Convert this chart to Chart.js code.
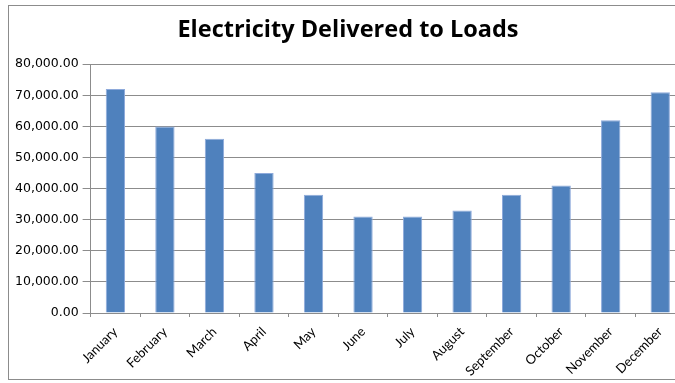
<!DOCTYPE html>
<html>
<head>
<meta charset="utf-8">
<script src="https://cdn.jsdelivr.net/npm/chart.js@4"></script>
<style>
body { margin: 0; background: #fff; overflow: hidden; }
#frame { position: absolute; left: 8px; top: 5px; width: 700px; height: 375px; border: 1px solid #8c8c8c; box-sizing: border-box; }
#wrap { position: absolute; left: 0; top: 0; width: 697px; height: 388px; }
</style>
</head>
<body>
<div id="frame"></div>
<div id="wrap"><canvas id="loadsChart"></canvas></div>
<script>
const months = ["January", "February", "March", "April", "May", "June",
  "July", "August", "September", "October", "November", "December"];
const delivered = [72000, 60000, 56000, 45000, 38000, 31000,
  31000, 33000, 38000, 41000, 62000, 71000];
const chartTitle = "Electricity Delivered to Loads";

let loadsChart;

function drawLoadsChart(labels, data) {

  if (loadsChart) loadsChart.destroy();

  loadsChart = new Chart(
    document.getElementById("loadsChart"),
    {
      type: "bar",
      data: {
        labels: labels,
        datasets: [{
          label: "Delivered",
          data: data,
          backgroundColor: "#4f81bd",
          borderColor: "#8eaadb",
          borderWidth: { top: 1, left: 1, right: 1, bottom: 0 },
          barPercentage: 0.39,
          categoryPercentage: 1
        }]
      },
      options: {
        responsive: true,
        maintainAspectRatio: false,
        animation: false,
        layout: { padding: { left: 11, right: 12, top: 4, bottom: 2 } },
        plugins: {
          legend: { display: false },
          tooltip: { enabled: false },
          title: {
            display: true,
            text: chartTitle,
            color: "#000",
            font: { family: "Open Sans", size: 23.5, weight: "bold" },
            padding: { top: 12, bottom: 20 }
          }
        },
        scales: {
          x: {
            grid: { display: true, drawOnChartArea: false, drawTicks: true, tickLength: 4, color: "#8c8c8c", offset: true },
            border: { display: true, color: "#8c8c8c", width: 1 },
            ticks: {
              color: "#000",
              font: { family: "Lato", size: 13 },
              minRotation: 45,
              maxRotation: 45,
              padding: 7
            }
          },
          y: {
            min: 0,
            max: 80000,
            grid: { color: "#8c8c8c", tickLength: 8 },
            border: { display: true, color: "#8c8c8c", width: 1 },
            ticks: {
              stepSize: 10000,
              color: "#000",
              font: { family: "DejaVu Sans", size: 12.5 },
              padding: 4,
              callback: function(v) {
                return v.toLocaleString("en-US", { minimumFractionDigits: 2, maximumFractionDigits: 2 });
              }
            }
          }
        }
      }
    }
  );
}

drawLoadsChart(months, delivered);
</script>
</body>
</html>
